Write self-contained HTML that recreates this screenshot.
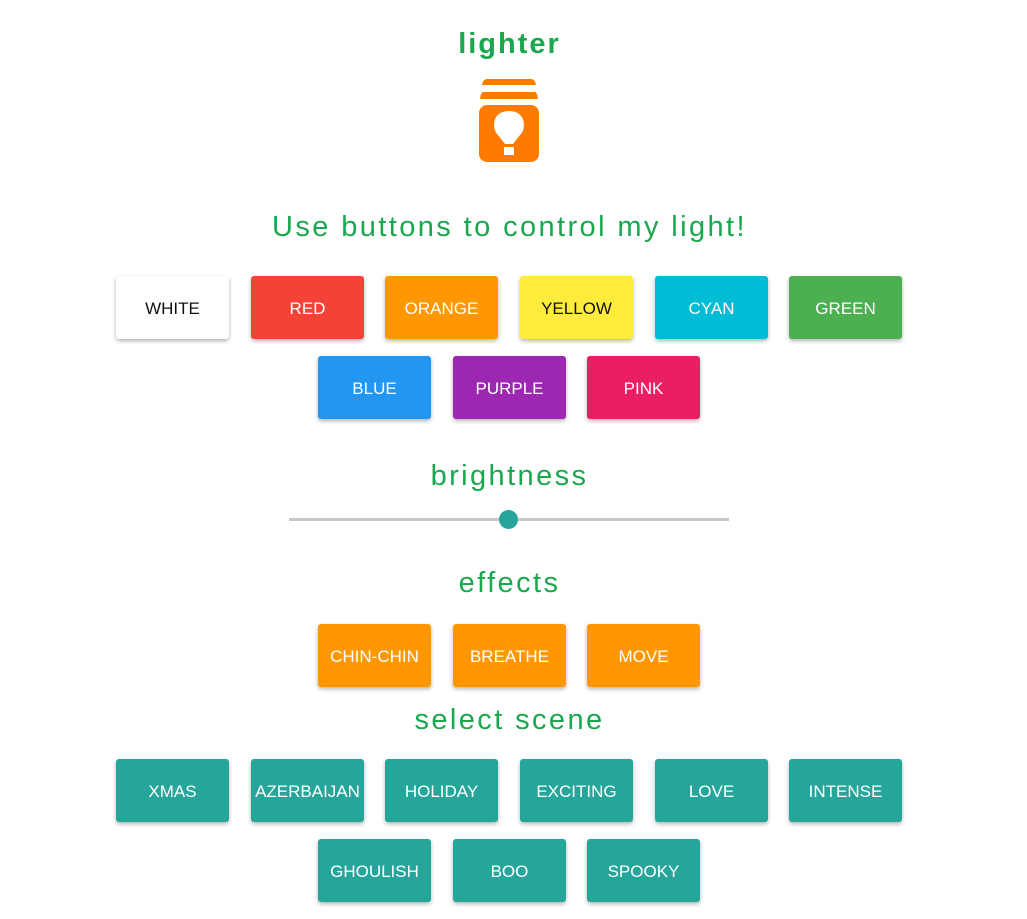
<!DOCTYPE html>
<html><head><style>
body{margin:0;width:1027px;height:919px;background:#fff;font-family:"Liberation Sans",sans-serif;position:relative;overflow:hidden}
.t{position:absolute;left:0;width:1019px;text-align:center;color:#1aa84f;letter-spacing:2.4px}
.b{position:absolute;width:113px;height:63px;border-radius:3px;box-shadow:0 2px 4px rgba(0,0,0,.3);color:#fff;font-size:17px;line-height:65px;text-align:center}
</style></head><body>
<div class="t" style="top:28px;font-size:29px;font-weight:bold;letter-spacing:2px">lighter</div>
<svg style="position:absolute;left:479px;top:78px" width="61" height="85">
<path d="M8 1 H52 Q56 1 57 7 H3 Q4 1 8 1Z" fill="#ff7b00"/>
<path d="M4 14 H56 Q58 14 59 21 H1 Q2 14 4 14Z" fill="#ff7b00"/>
<rect x="0" y="27" width="60" height="57" rx="8" fill="#ff7b00"/>
<path d="M30 33 C12 33 13 52 19 57 L26 66 H34 L41 57 C47 52 48 33 30 33Z" fill="#fff"/>
<rect x="25" y="69" width="10" height="8" fill="#fff"/>
</svg>
<div class="t" style="top:211px;font-size:29px">Use buttons to control my light!</div>
<div class="b" style="left:116px;top:276px;background:#fff;color:#111">WHITE</div>
<div class="b" style="left:251px;top:276px;background:#f44336">RED</div>
<div class="b" style="left:385px;top:276px;background:#ff9800">ORANGE</div>
<div class="b" style="left:520px;top:276px;background:#ffeb3b;color:#111">YELLOW</div>
<div class="b" style="left:655px;top:276px;background:#00bcd4">CYAN</div>
<div class="b" style="left:789px;top:276px;background:#4caf50">GREEN</div>
<div class="b" style="left:318px;top:356px;background:#2196f3">BLUE</div>
<div class="b" style="left:453px;top:356px;background:#9c27b0">PURPLE</div>
<div class="b" style="left:587px;top:356px;background:#e91e63">PINK</div>
<div class="t" style="top:460px;font-size:29px">brightness</div>
<div style="position:absolute;left:289px;top:518px;width:440px;height:3px;background:#c8c8c8"></div>
<div style="position:absolute;left:499px;top:510px;width:19px;height:19px;border-radius:50%;background:#26a69a"></div>
<div class="t" style="top:567px;font-size:29px">effects</div>
<div class="b" style="left:318px;top:624px;background:#ff9800">CHIN-CHIN</div>
<div class="b" style="left:453px;top:624px;background:#ff9800">BREATHE</div>
<div class="b" style="left:587px;top:624px;background:#ff9800">MOVE</div>
<div class="t" style="top:704px;font-size:29px">select scene</div>
<div class="b" style="left:116px;top:759px;background:#26a69a">XMAS</div>
<div class="b" style="left:251px;top:759px;background:#26a69a">AZERBAIJAN</div>
<div class="b" style="left:385px;top:759px;background:#26a69a">HOLIDAY</div>
<div class="b" style="left:520px;top:759px;background:#26a69a">EXCITING</div>
<div class="b" style="left:655px;top:759px;background:#26a69a">LOVE</div>
<div class="b" style="left:789px;top:759px;background:#26a69a">INTENSE</div>
<div class="b" style="left:318px;top:839px;background:#26a69a">GHOULISH</div>
<div class="b" style="left:453px;top:839px;background:#26a69a">BOO</div>
<div class="b" style="left:587px;top:839px;background:#26a69a">SPOOKY</div>
</body></html>
